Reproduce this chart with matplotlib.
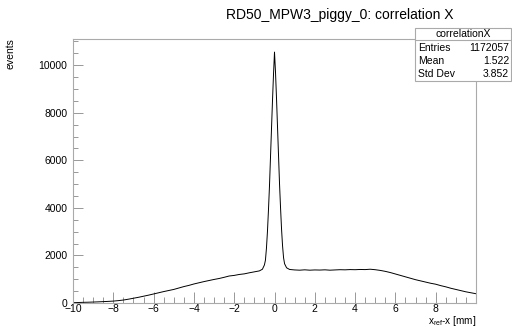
import matplotlib.pyplot as plt
from matplotlib.ticker import MultipleLocator, FuncFormatter

plt.rcParams['font.family'] = ['Liberation Sans', 'DejaVu Sans']
plt.rcParams['mathtext.fontset'] = 'custom'
plt.rcParams['mathtext.rm'] = 'Liberation Sans'

# ---- histogram readout (x_ref - x in mm, events) ----
left_x = [-10, -9.75, -9.5, -9.25, -9, -8.75, -8.5, -8.25, -8, -7.75, -7.5, -7.25,
          -7, -6.75, -6.5, -6.25, -6, -5.75, -5.5, -5.25, -5, -4.75, -4.5, -4.25,
          -4, -3.75, -3.5, -3.25, -3, -2.75, -2.5, -2.25, -2, -1.75, -1.5, -1.25,
          -1, -0.75]
left_y = [15, 20, 28, 33, 40, 48, 58, 68, 80, 100, 125, 160,
          200, 240, 285, 330, 380, 430, 480, 525, 570, 630, 690, 740,
          800, 850, 900, 945, 990, 1030, 1080, 1135, 1160, 1200, 1225, 1270,
          1310, 1350]

peak_x = [-0.6, -0.5, -0.45, -0.4, -0.35, -0.3, -0.25, -0.2, -0.15, -0.1, -0.05, 0,
          0.05, 0.1, 0.15, 0.2, 0.25, 0.3, 0.35, 0.4, 0.45, 0.5, 0.6]
peak_y = [1420, 1600, 1800, 2300, 3000, 3900, 4900, 6100, 7300, 8500, 9600, 10550,
          9700, 8600, 7400, 6200, 5000, 4000, 3100, 2400, 1900, 1650, 1480]

right_x = [0.75, 1, 1.25, 1.5, 1.75, 2, 2.25, 2.5, 2.75, 3, 3.25, 3.5, 3.75, 4,
           4.25, 4.5, 4.75, 5, 5.25, 5.5, 5.75, 6, 6.25, 6.5, 6.75, 7, 7.25, 7.5,
           7.75, 8, 8.25, 8.5, 8.75, 9, 9.25, 9.5, 9.75, 10]
right_y = [1410, 1390, 1380, 1395, 1380, 1390, 1385, 1395, 1380, 1390, 1400, 1395, 1405, 1400,
           1410, 1405, 1420, 1400, 1370, 1330, 1280, 1220, 1160, 1100, 1040, 980, 930, 880,
           830, 790, 730, 680, 620, 570, 520, 470, 430, 390]

stats_labels = ['Entries', 'Mean', 'Std Dev']
stats_values = ['1172057', '1.522', '3.852']

xs = left_x + peak_x + right_x
ys = left_y + peak_y + right_y

fig = plt.figure(figsize=(5.12, 3.27), dpi=100)
ax = fig.add_axes([73/512, 1-303/327, 403/512, 264/327])
ax.plot(xs, ys, color='black', lw=0.7)

ax.set_xlim(-10, 10)
ax.set_ylim(0, 11100)
ax.xaxis.set_major_locator(MultipleLocator(2))
ax.xaxis.set_minor_locator(MultipleLocator(0.5))
# ROOT leaves the last x label off, the axis title sits there
ax.xaxis.set_major_formatter(
    FuncFormatter(lambda v, p: '' if v > 9 else ('%d' % v).replace('-', '\u2212')))
ax.yaxis.set_major_locator(MultipleLocator(2000))
ax.yaxis.set_minor_locator(MultipleLocator(500))
ax.tick_params(which='both', direction='in', colors='#888888', labelcolor='black',
               labelsize=7.5, width=0.6)
ax.tick_params(which='major', length=8)
ax.tick_params(which='minor', length=4)
ax.tick_params(axis='x', pad=1)
ax.tick_params(axis='y', which='major', length=7, pad=4)
ax.tick_params(axis='y', which='minor', length=3.5)
for s in ax.spines.values():
    s.set_color('#aaaaaa')
    s.set_linewidth(0.8)

fig.text(340/512, 1-15/327, 'RD50_MPW3_piggy_0: correlation X', ha='center', va='center',
         fontsize=10)
fig.text(476/512, 1-320.5/327, r'x$_{\rm ref}$-x [mm]', ha='right', va='center', fontsize=7.2)
fig.text(11/512, 1-38/327, 'events', rotation=90, ha='center', va='top', fontsize=7.5)

# stats box
bx0, by0, bx1, by1 = 415/512, 1-81/327, 511/512, 1-28/327
fig.patches.append(plt.Rectangle((bx0, by0), bx1-bx0, by1-by0, transform=fig.transFigure,
                                 facecolor='white', edgecolor='#aaaaaa', lw=0.8))
fig.lines.append(plt.Line2D([bx0, bx1], [1-40/327]*2, transform=fig.transFigure,
                            color='#aaaaaa', lw=0.8))
fig.text((bx0+bx1)/2, 1-34/327, 'correlationX', ha='center', va='center', fontsize=7.5)
for i, (lab, val) in enumerate(zip(stats_labels, stats_values)):
    yy = 1-(48+13*i)/327
    fig.text(418/512, yy, lab, ha='left', va='center', fontsize=7.5)
    fig.text(509/512, yy, val, ha='right', va='center', fontsize=7.5)

fig.savefig('out.png', dpi=100)
